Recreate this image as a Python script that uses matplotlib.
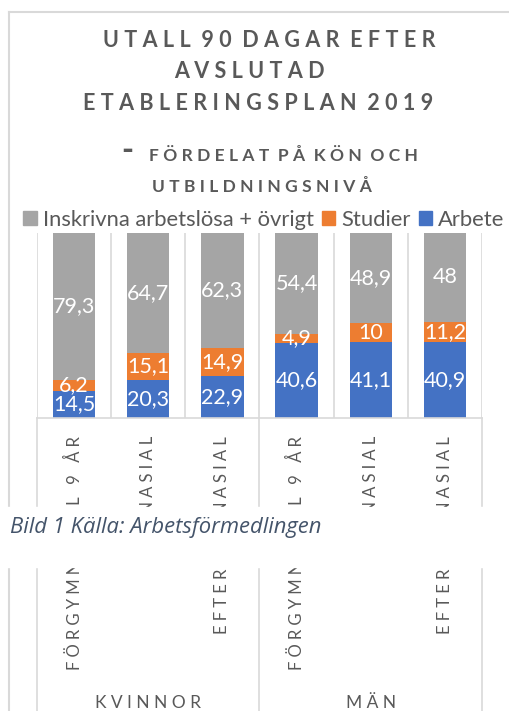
import matplotlib
matplotlib.use("Agg")
import matplotlib.pyplot as plt
from matplotlib.lines import Line2D
from matplotlib.patches import Rectangle
import numpy as np

plt.rcParams['font.family'] = ['Lato', 'DejaVu Sans']

W, H = 509, 711  # px
DPI = 100

title_lines = ["UTALL 90 DAGAR EFTER", "AVSLUTAD", "ETABLERINGSPLAN 2019"]
subtitle_lines = ["FÖRDELAT PÅ KÖN OCH", "UTBILDNINGSNIVÅ"]
groups = ["KVINNOR", "MÄN"]
levels = ["FÖRGYMNASIAL 9 ÅR", "GYMNASIAL", "EFTERGYMNASIAL"]
series_names = ["Inskrivna arbetslösa + övrigt", "Studier", "Arbete"]
arbete = [14.5, 20.3, 22.9, 40.6, 41.1, 40.9]
studier = [6.2, 15.1, 14.9, 4.9, 10, 11.2]
ovrigt = [79.3, 64.7, 62.3, 54.4, 48.9, 48]
caption = "Bild 1 Källa: Arbetsförmedlingen"

GRAY = '#A5A5A5'
ORANGE = '#ED7D31'
BLUE = '#4472C4'
TXT = '#595959'
GRID = '#D9D9D9'


def fx(x):
    return x / W


def fy(y):
    return 1 - y / H


def spaced(s, sep='\u2005', word='\u2005 '):
    # excel-style letter spacing
    return word.join(sep.join(w) for w in s.split(' '))


def fmt(v):
    return f'{v:g}'.replace('.', ',')


fig = plt.figure(figsize=(W / DPI, H / DPI), dpi=DPI)
ax = fig.add_axes([fx(37), fy(418), (482 - 37) / W, (418 - 233) / H])

x = np.arange(len(arbete))
bw = 0.57
b1 = ax.bar(x, arbete, bw, color=BLUE, zorder=2)
b2 = ax.bar(x, studier, bw, bottom=arbete, color=ORANGE, zorder=2)
b3 = ax.bar(x, ovrigt, bw, bottom=np.add(arbete, studier), color=GRAY, zorder=2)

for cont, vals in ((b1, arbete), (b2, studier), (b3, ovrigt)):
    ax.bar_label(cont, labels=[fmt(v) for v in vals], label_type='center',
                 color='white', fontsize=15.5)

ax.set_xlim(-0.5, len(x) - 0.5)
ax.set_ylim(0, 100)
ax.set_yticks([])
for s in ('top', 'left', 'right'):
    ax.spines[s].set_visible(False)
ax.spines['bottom'].set_color(GRID)
ax.spines['bottom'].set_linewidth(1.2)

# vertical gridlines between categories
for b in np.arange(-0.5, len(x)):
    ax.axvline(b, color=GRID, lw=1.2, zorder=0)

# multi-level category axis
ax.set_xticks(x)
ax.set_xticklabels([spaced(l, '\u2005', '\u2005 \u2005') for l in levels * len(groups)],
                   rotation=90, va='top', ha='center', fontsize=12, color=TXT)
ax.tick_params(axis='x', length=0, pad=13)

tr = ax.get_xaxis_transform()
depth = (711 - 418) / (418 - 233)
for b in (-0.5, 2.5, 5.5):
    ax.add_line(Line2D([b, b], [0, -depth], transform=tr, color=GRID, lw=1.2,
                       clip_on=False))
for i, g in enumerate(groups):
    ax.text(i * 3 + 1, -(703 - 418) / (418 - 233), spaced(g), transform=tr,
            ha='center', va='center', fontsize=12.5, color=TXT)

# titles
title_pos = [(269, 47), (249, 78), (258, 110)]
for line, (px, py) in zip(title_lines, title_pos):
    fig.text(fx(px), fy(py), spaced(line), ha='center', va='baseline',
             fontsize=15.5, fontweight='bold', color=TXT)
fig.text(fx(127), fy(151), '-', ha='center', va='center', fontsize=23,
         fontweight='black', color=TXT)
sub_pos = [(283, 161), (262, 192)]
for line, (px, py) in zip(subtitle_lines, sub_pos):
    fig.text(fx(px), fy(py), spaced(line), ha='center', va='baseline',
             fontsize=12.5, fontweight='bold', color=TXT)

# legend
handles = [Rectangle((0, 0), 1, 1, color=c) for c in (GRAY, ORANGE, BLUE)]
fig.legend(handles, series_names, loc='center left',
           bbox_to_anchor=(fx(23), fy(220)), ncol=3, frameon=False,
           borderpad=0, borderaxespad=0, handlelength=0.62, handleheight=0.62,
           handletextpad=0.28, columnspacing=0.36, fontsize=15.8,
           labelcolor=TXT)

# chart border
fig.add_artist(Line2D([fx(9), fx(9)], [fy(12), 0], color=GRID, lw=1.5))
fig.add_artist(Line2D([fx(9), 1], [fy(12), fy(12)], color=GRID, lw=1.5))

# caption band that sits over the chart in the document
fig.add_artist(Rectangle((0, fy(567)), 1, (567 - 507) / H,
                         transform=fig.transFigure, color='white', zorder=10))
fig.text(fx(10), fy(527), caption, ha='left', va='center', style='italic',
         fontsize=15.8, color='#44546A', zorder=11,
         family=['Open Sans', 'DejaVu Sans'])

fig.savefig('out.png', dpi=DPI)
